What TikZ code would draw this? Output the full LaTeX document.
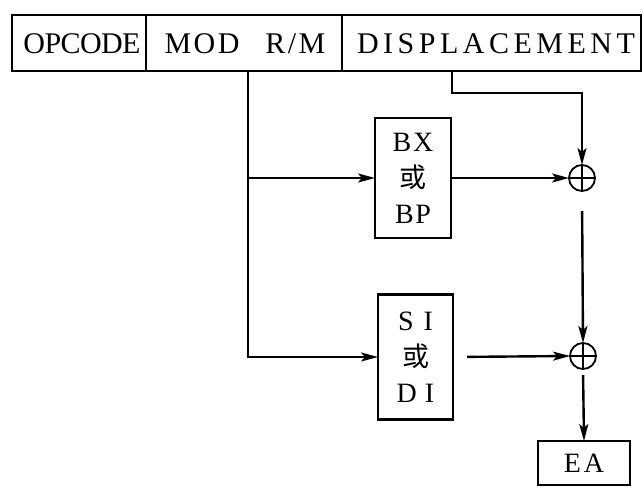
\documentclass[tikz,border=0pt]{standalone}
\usepackage{fontspec}
\setmainfont{Liberation Serif}
\newfontfamily\cjk{Noto Sans CJK SC}
\usetikzlibrary{arrows.meta}
\tikzset{
  ln/.style={line width=2.4pt},
  arr/.style={ln,-{Stealth[length=17pt,width=9pt,inset=4pt]}},
  cell/.style={draw,line width=2.4pt,inner sep=0pt,outer sep=0pt,anchor=center},
  regbox/.style={cell,minimum width=76pt,minimum height=122pt,align=center,
    font=\fontsize{28}{36}\selectfont},
  sumnode/.style={draw,line width=1.8pt,circle,minimum size=26pt,inner sep=0pt,outer sep=0pt,
    path picture={\draw[line width=1.8pt] (path picture bounding box.north) -- (path picture bounding box.south)
      (path picture bounding box.west) -- (path picture bounding box.east);}},
  toptext/.style={font=\fontsize{30}{30}\selectfont,inner sep=0pt,anchor=center}
}
\newcommand{\huo}{{\cjk\fontsize{27}{36}\selectfont 或}}
\begin{document}
\begin{tikzpicture}[x=1pt,y=-1pt]
\useasboundingbox (0,0) rectangle (644,487);
% top instruction bar
\node[cell,minimum width=134pt,minimum height=56pt] (op) at (79,43) {};
\node[cell,minimum width=196pt,minimum height=56pt] (mod) at (244,43) {};
\node[cell,minimum width=299pt,minimum height=56pt] (disp) at (491.5,43) {};
\node[toptext] (opt) at (82,44) {\addfontfeature{LetterSpace=-2}OPCODE};
\node[toptext] (modt) at (245,44) {\addfontfeature{LetterSpace=8}MOD\hspace{26pt}R/M};
\node[toptext] (dispt) at (496,44) {\addfontfeature{LetterSpace=15}DISPLACEMENT};
% registers
\node[regbox,minimum height=120pt] (bx) at (413,178) {\addfontfeature{LetterSpace=6}BX\\\huo\\\addfontfeature{LetterSpace=6}BP};
\node[regbox,minimum width=75pt,minimum height=125pt] (si) at (415.5,357) {S\hspace{10pt}I\\\huo\\D\hspace{8pt}I};
\node[cell,minimum width=92pt,minimum height=44pt,font=\fontsize{28}{28}\selectfont] (ea) at (584,463) {\addfontfeature{LetterSpace=10}EA};
% adders
\node[sumnode] (c1) at (582,178) {};
\node[sumnode] (c2) at (583,356) {};
% connectors
\coordinate (m0) at (248,71);
\coordinate (d0) at (452,71);
\draw[arr] (m0) |- (si.west);
\draw[arr] (m0 |- bx.west) -- (bx.west);
\draw[arr] (d0) -- (452,93) -| (c1.north);
\draw[arr] (bx.east) -- (c1.west);
\draw[arr,shorten <=14pt] (si.east) -- (c2.west);
\draw[arr,shorten <=20pt] (c1.south) -- (c2.north);
\draw[arr,shorten <=6pt] (c2.south) -- (ea.north);
\end{tikzpicture}
\end{document}
